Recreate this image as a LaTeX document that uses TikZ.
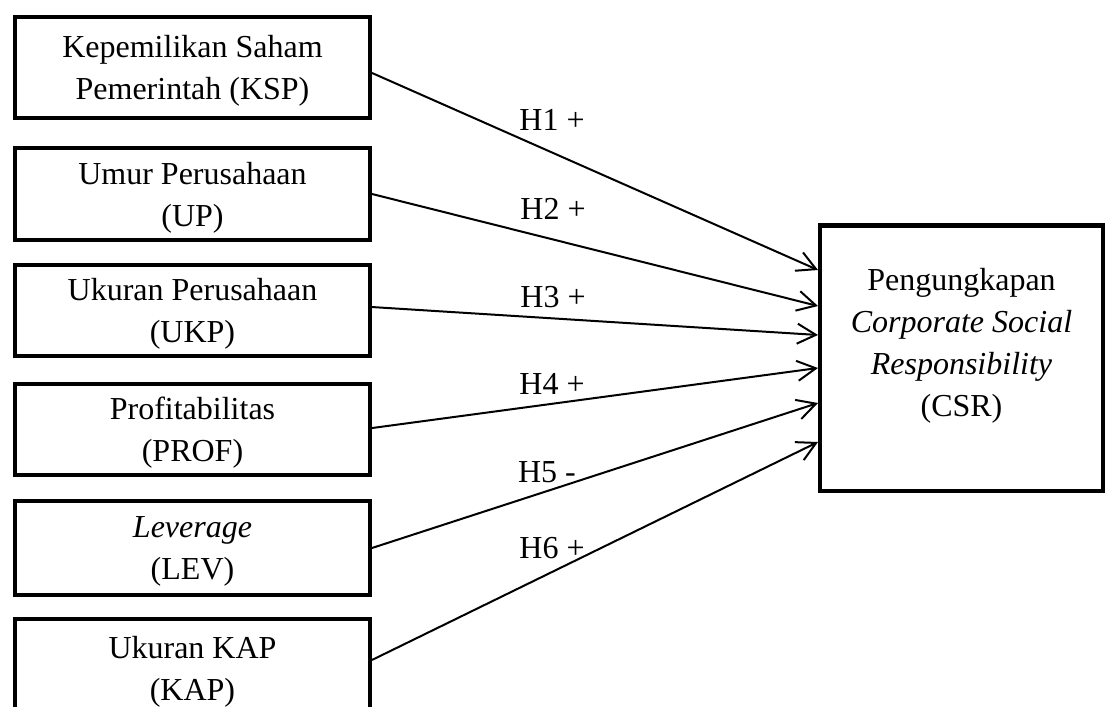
\documentclass[tikz,border=0pt]{standalone}
\usepackage{fontspec}
\setmainfont{Liberation Serif}
\usetikzlibrary{arrows.meta}
\newcommand\nodeksp{Kepemilikan Saham\\Pemerintah (KSP)}
\newcommand\nodeup{Umur Perusahaan\\(UP)}
\newcommand\nodeukp{Ukuran Perusahaan\\(UKP)}
\newcommand\nodeprof{Profitabilitas\\(PROF)}
\newcommand\nodelev{\textit{Leverage}\\(LEV)}
\newcommand\nodekap{Ukuran KAP\\(KAP)}
\newcommand\nodecsr{Pengungkapan\\\textit{Corporate Social}\\\textit{Responsibility}\\(CSR)}
\tikzstyle{mynodestyle} = [rectangle, draw, line width=3.25pt, align=center]
\tikzstyle{vn} = [mynodestyle, minimum width=266pt, text depth=-2pt]
\tikzstyle{cn} = [mynodestyle, minimum width=212pt, minimum height=199pt, text height=87pt, text depth=0pt]
\tikzset{>={Straight Barb[length=14pt,width=15pt]}, every picture/.style={line width=1.5pt}}
\begin{document}
\begin{tikzpicture}[x=0.75pt, y=-0.75pt, font=\fontsize{24pt}{31.5pt}\selectfont]
\useasboundingbox (0, 0) rectangle (1108, 707);
\node[vn, minimum height=75.5pt] (ksp) at (192.5, 67.5) {\nodeksp};
\node[vn, minimum height=68.75pt] (up) at (192.5, 194) {\nodeup};
\node[vn, minimum height=68pt] (ukp) at (192.5, 310.5) {\nodeukp};
\node[vn, minimum height=68pt] (prof) at (192.5, 429.5) {\nodeprof};
\node[vn, minimum height=70.25pt] (lev) at (192.5, 548) {\nodelev};
\node[vn, minimum height=74pt] (kap) at (192.5, 668.5) {\nodekap};
\node[cn] (csr) at (961.5, 358) {\nodecsr};
\node (h1) at (552, 120) {H1 +};
\node (h2) at (553, 209) {H2 +};
\node (h3) at (553, 297) {H3 +};
\node (h4) at (552, 384) {H4 +};
\node (h5) at (547, 472) {H5 -};
\node (h6) at (552, 548) {H6 +};
\draw [->] ([yshift=-4.1pt]ksp.east) -- ([yshift=66pt]csr.west);
\draw [->] (up.east) -- ([yshift=39pt]csr.west);
\draw [->] ([yshift=2.6pt]ukp.east) -- ([yshift=17.25pt]csr.west);
\draw [->] ([yshift=1.1pt]prof.east) -- ([yshift=-7.5pt]csr.west);
\draw [->] (lev.east) -- ([yshift=-33.75pt]csr.west);
\draw [->] ([yshift=6.4pt]kap.east) -- ([yshift=-63pt]csr.west);
\end{tikzpicture}
\end{document}
